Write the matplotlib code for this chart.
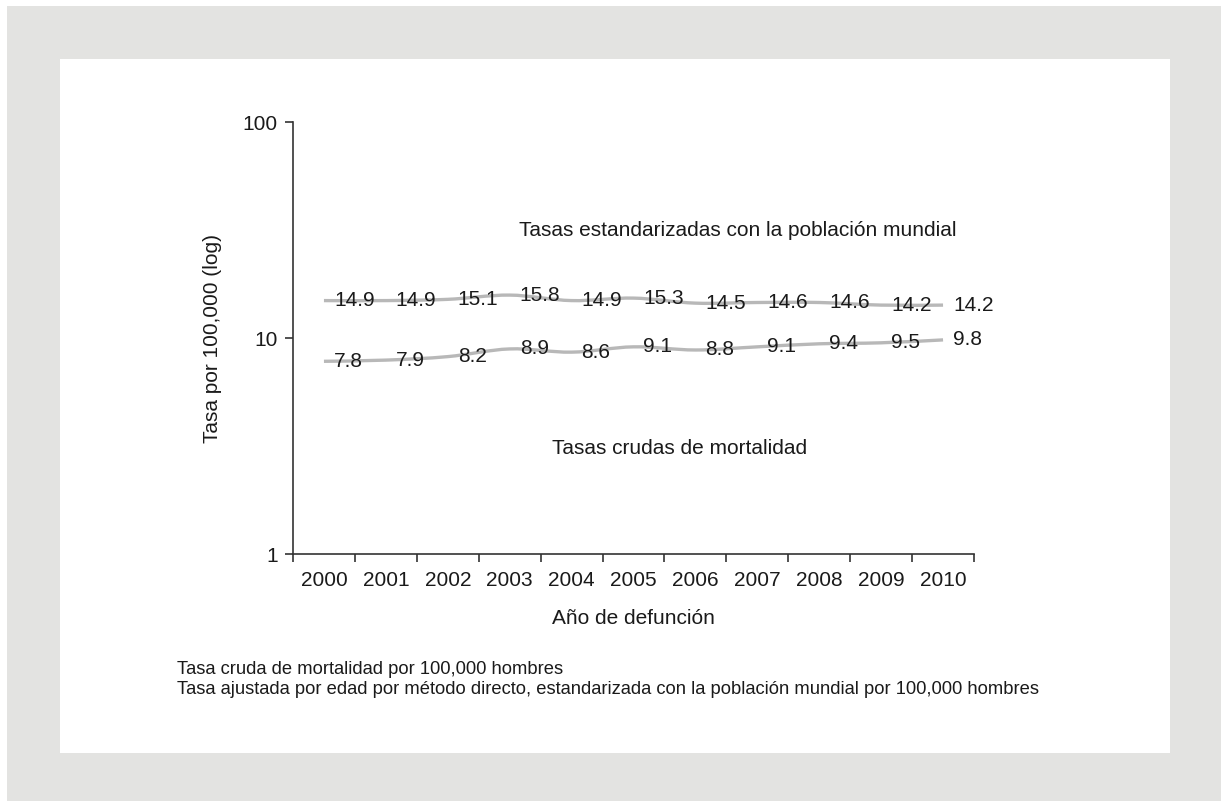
import numpy as np
import matplotlib
matplotlib.use("Agg")
import matplotlib.pyplot as plt
from matplotlib.path import Path
from matplotlib.patches import PathPatch, Rectangle
from matplotlib.ticker import FixedLocator, NullFormatter, FixedFormatter, NullLocator
import matplotlib.transforms as mtransforms

plt.rcParams['font.family'] = ['Liberation Sans', 'DejaVu Sans']

years = ["2000", "2001", "2002", "2003", "2004", "2005", "2006", "2007", "2008", "2009", "2010"]
standardized = [14.9, 14.9, 15.1, 15.8, 14.9, 15.3, 14.5, 14.6, 14.6, 14.2, 14.2]
crude = [7.8, 7.9, 8.2, 8.9, 8.6, 9.1, 8.8, 9.1, 9.4, 9.5, 9.8]
yticks = [1, 10, 100]
ytick_labels = ["1", "10", "100"]

W, H = 1221, 801
fig = plt.figure(figsize=(W / 100, H / 100), dpi=100)
fig.patch.set_facecolor("white")

def fx(px):
    return px / W

def fy(py):
    return 1 - py / H

FS = 15
FOOT = 13.2

# background frames
fig.add_artist(Rectangle((fx(7), 0), 1 - fx(7), fy(6), transform=fig.transFigure,
                         facecolor="#e3e3e1", edgecolor="none", zorder=-10))
fig.add_artist(Rectangle((fx(60), fy(753)), fx(1170) - fx(60), fy(59) - fy(753),
                         transform=fig.transFigure, facecolor="white", edgecolor="none", zorder=-9))

ax = fig.add_axes([fx(293), fy(554), fx(974) - fx(293), fy(122) - fy(554)])
ax.set_facecolor("none")
ax.set_yscale("log")
n = len(years)
ax.set_xlim(-0.5, n - 0.5)
ax.set_ylim(1, 100)

axcol = "#333333"
txtcol = "#1a1a1a"
for s in ["top", "right"]:
    ax.spines[s].set_visible(False)
for s in ["left", "bottom"]:
    ax.spines[s].set_color(axcol)
    ax.spines[s].set_linewidth(1.2)

ax.yaxis.set_major_locator(FixedLocator(yticks))
ax.yaxis.set_major_formatter(FixedFormatter(ytick_labels))
ax.yaxis.set_minor_locator(NullLocator())
ax.tick_params(axis="y", which="major", direction="out", length=6, width=1.2,
               color=axcol, labelsize=FS, labelcolor=txtcol, pad=5)

ax.xaxis.set_major_locator(FixedLocator(np.arange(-0.5, n, 1.0)))
ax.xaxis.set_major_formatter(NullFormatter())
ax.xaxis.set_minor_locator(FixedLocator(np.arange(n)))
ax.xaxis.set_minor_formatter(FixedFormatter(years))
ax.tick_params(axis="x", which="major", direction="out", length=6, width=1.2, color=axcol)
ax.tick_params(axis="x", which="minor", length=0, labelsize=FS, labelcolor=txtcol, pad=12)


def smooth_path(xs, ys):
    lx = np.array(xs, dtype=float)
    ly = np.log10(np.array(ys, dtype=float))
    P = np.column_stack([lx, ly])
    ext = np.vstack([P[0], P, P[-1]])
    verts = [P[0]]
    codes = [Path.MOVETO]
    for i in range(len(P) - 1):
        p0, p1, p2, p3 = ext[i], ext[i + 1], ext[i + 2], ext[i + 3]
        c1 = p1 + (p2 - p0) / 6.0
        c2 = p2 - (p3 - p1) / 6.0
        verts += [c1, c2, p2]
        codes += [Path.CURVE4] * 3
    verts = np.array(verts)
    verts[:, 1] = 10 ** verts[:, 1]
    return Path(verts, codes)


xs = np.arange(n)
linecol = "#b8b8b8"
for series in (standardized, crude):
    patch = PathPatch(smooth_path(xs, series), facecolor="none", edgecolor=linecol,
                      lw=2.4, zorder=2, capstyle="butt")
    ax.add_patch(patch)
    off = mtransforms.offset_copy(ax.transData, fig=fig, x=10, y=0, units="dots")
    for x, v in zip(xs, series):
        ax.text(x, v, f"{v:.1f}", transform=off, ha="left", va="center",
                fontsize=FS, color=txtcol, zorder=3)

fig.text(fx(738), fy(231), "Tasas estandarizadas con la población mundial",
         ha="center", va="center", fontsize=FS, color=txtcol)
fig.text(fx(680), fy(448), "Tasas crudas de mortalidad",
         ha="center", va="center", fontsize=FS, color=txtcol)

fig.text(fx(213), fy(339), "Tasa por 100,000 (log)", rotation=90,
         ha="center", va="center", fontsize=FS, color=txtcol)
fig.text(fx(633), fy(619), "Año de defunción",
         ha="center", va="center", fontsize=FS, color=txtcol)

fig.text(fx(177), fy(670), "Tasa cruda de mortalidad por 100,000 hombres",
         ha="left", va="center", fontsize=FOOT, color=txtcol)
fig.text(fx(177), fy(689),
         "Tasa ajustada por edad por método directo, estandarizada con la población mundial por 100,000 hombres",
         ha="left", va="center", fontsize=FOOT, color=txtcol)

fig.savefig("out.png", dpi=100)
